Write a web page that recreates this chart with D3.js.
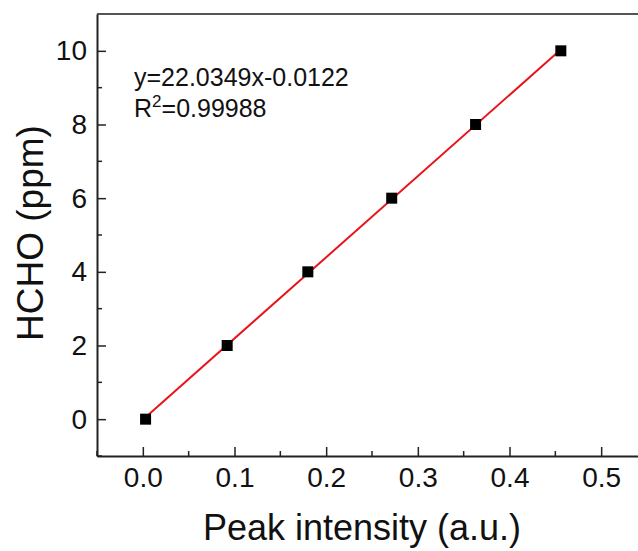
<!DOCTYPE html>
<html>
<head>
<meta charset="utf-8">
<script src="https://cdn.jsdelivr.net/npm/d3@7"></script>
<style>
  body { margin: 0; background: #fff; }
  svg { display: block; font-family: "Liberation Sans", Arial, sans-serif; }
</style>
</head>
<body>
<div id="vis"></div>
<script>
// data
var peakIntensity = [0.003, 0.092, 0.180, 0.2715, 0.363, 0.456];
var hchoPpm = [0, 2, 4, 6, 8, 10];
var fitSlope = 22.0349;
var fitIntercept = -0.0122;
var xTicks = [0.0, 0.1, 0.2, 0.3, 0.4, 0.5];
var yTicks = [0, 2, 4, 6, 8, 10];
var xMinorTicks = [-0.05, 0.05, 0.15, 0.25, 0.35, 0.45];
var yMinorTicks = [-1, 1, 3, 5, 7, 9];

var width = 638, height = 551;
var margin = {left: 97, top: 14, right: -9, bottom: 95};

var svg = d3.select('#vis')
    .append('svg')
        .attr('width', width)
        .attr('height', height);

var x = d3.scaleLinear()
    .domain([-0.05, 0.55])
    .range([margin.left, width - margin.right]);
var y = d3.scaleLinear()
    .domain([-1, 11])
    .range([height - margin.bottom, margin.top]);

// frame top line
svg.append('line')
    .attr('x1', x(-0.05)).attr('x2', x(0.55))
    .attr('y1', y(11)).attr('y2', y(11))
    .attr('stroke', '#555').attr('stroke-width', 2);

// x axis
var xAxis = svg.append('g')
    .attr('transform', 'translate(0,' + y(-1) + ')')
    .call(d3.axisBottom(x).tickValues(xTicks).tickSizeInner(-9).tickSizeOuter(0)
        .tickPadding(11).tickFormat(d3.format('.1f')));
svg.append('g').selectAll('line')
    .data(xMinorTicks)
    .join('line')
        .attr('x1', function(d) { return x(d); })
        .attr('x2', function(d) { return x(d); })
        .attr('y1', y(-1)).attr('y2', y(-1) - 5)
        .attr('stroke', '#222').attr('stroke-width', 1.5);

// y axis
var yAxis = svg.append('g')
    .attr('transform', 'translate(' + x(-0.05) + ',0)')
    .call(d3.axisLeft(y).tickValues(yTicks).tickSizeInner(-9).tickSizeOuter(0)
        .tickPadding(10));
svg.append('g').selectAll('line')
    .data(yMinorTicks)
    .join('line')
        .attr('x1', x(-0.05)).attr('x2', x(-0.05) + 5)
        .attr('y1', function(d) { return y(d); })
        .attr('y2', function(d) { return y(d); })
        .attr('stroke', '#222').attr('stroke-width', 1.5);

[xAxis, yAxis].forEach(function(a) {
    a.select('.domain').attr('stroke', '#222').attr('stroke-width', 2);
    a.selectAll('.tick line').attr('stroke', '#222').attr('stroke-width', 1.5);
    a.selectAll('.tick text')
        .attr('fill', '#111')
        .style('font-size', '28px')
        .style('font-family', '"Liberation Sans", Arial, sans-serif');
});

// fit line
var fitX = d3.extent(peakIntensity);
svg.append('line')
    .attr('x1', x(fitX[0])).attr('y1', y(fitSlope * fitX[0] + fitIntercept))
    .attr('x2', x(fitX[1])).attr('y2', y(fitSlope * fitX[1] + fitIntercept))
    .attr('stroke', '#e8141c').attr('stroke-width', 2);

// points
var pts = peakIntensity.map(function(v, i) { return {x: v, y: hchoPpm[i]}; });
svg.selectAll('.dot')
    .data(pts)
    .join('rect')
        .attr('class', 'dot')
        .attr('x', function(d) { return x(d.x) - 5.5; })
        .attr('y', function(d) { return y(d.y) - 5.5; })
        .attr('width', 11).attr('height', 11)
        .attr('fill', '#000');

// annotation
var ann = svg.append('g').attr('fill', '#111').style('font-size', '25px');
ann.append('text')
    .attr('x', 134).attr('y', 86)
    .text('y=22.0349x-0.0122');
var r2 = ann.append('text')
    .attr('x', 134).attr('y', 117);
r2.append('tspan').text('R');
r2.append('tspan').attr('dy', -10).style('font-size', '17px').text('2');
r2.append('tspan').attr('dy', 10).text('=0.99988');

// axis titles
svg.append('text')
    .attr('x', 362).attr('y', 540)
    .attr('text-anchor', 'middle')
    .attr('fill', '#111')
    .style('font-size', '36px')
    .text('Peak intensity (a.u.)');
svg.append('text')
    .attr('transform', 'translate(43,233) rotate(-90)')
    .attr('text-anchor', 'middle')
    .attr('fill', '#111')
    .style('font-size', '37px')
    .text('HCHO (ppm)');
</script>
</body>
</html>
